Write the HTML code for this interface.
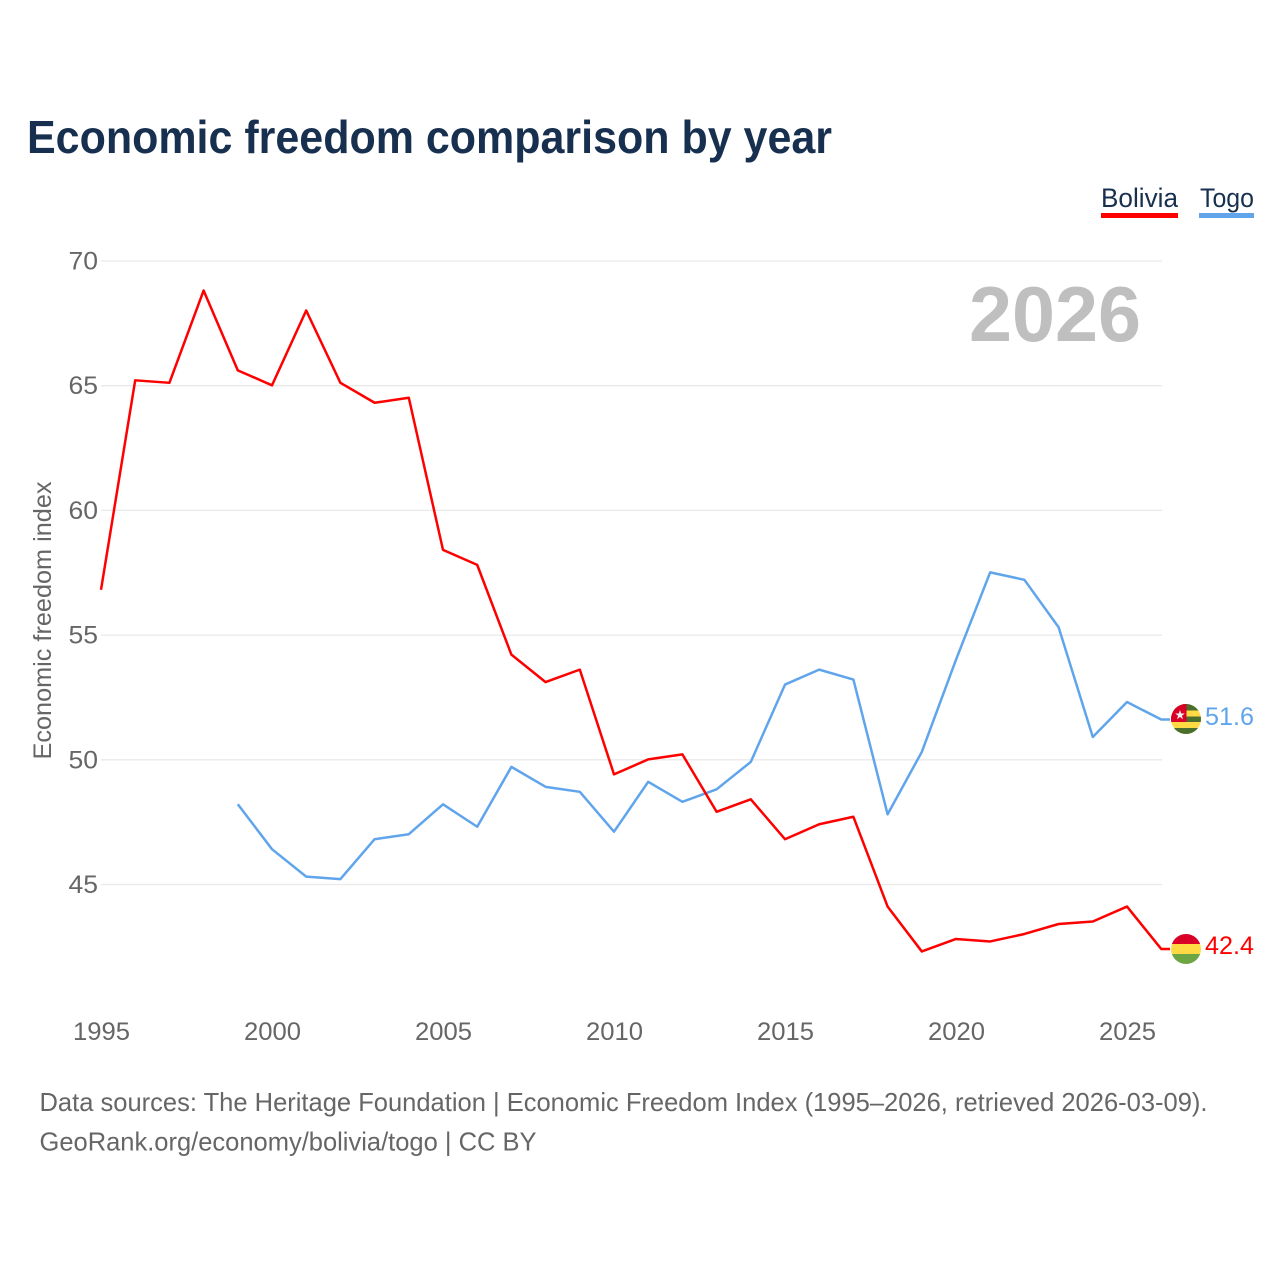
<!DOCTYPE html>
<html lang="en">
<head>
<meta charset="utf-8">
<title>Economic freedom comparison by year</title>
<style>
html,body{margin:0;padding:0;background:#fff;width:1280px;height:1280px;overflow:hidden}
svg{display:block;font-family:"Liberation Sans",sans-serif}
</style>
</head>
<body>
<svg id="chart" width="1280" height="1280" viewBox="0 0 1280 1280" xmlns="http://www.w3.org/2000/svg">
  <text x="27" y="153" font-size="46" font-weight="700" fill="#18304f" textLength="805" lengthAdjust="spacingAndGlyphs">Economic freedom comparison by year</text>

  <g>
    <text x="1101" y="207" font-size="27" fill="#18304f" textLength="77" lengthAdjust="spacingAndGlyphs">Bolivia</text>
    <rect x="1101" y="213" width="77" height="5" fill="#ff0000"/>
  </g>
  <g>
    <text x="1200" y="207" font-size="27" fill="#18304f" textLength="54" lengthAdjust="spacingAndGlyphs">Togo</text>
    <rect x="1199" y="213" width="55" height="5" fill="#60a5ec"/>
  </g>

  <g id="grid"></g>
  <g id="yticks"></g>
  <g id="xticks"></g>

  <text transform="translate(51,620.5) rotate(-90)" text-anchor="middle" font-size="25" fill="#666666" textLength="278" lengthAdjust="spacingAndGlyphs">Economic freedom index</text>

  <text x="1141" y="341" text-anchor="end" font-size="78" font-weight="700" fill="#bfbfbf" textLength="172" lengthAdjust="spacingAndGlyphs">2026</text>

  <path id="line-togo" fill="none" stroke="#60a5ec" stroke-width="2.5" stroke-linejoin="round"/>
  <path id="line-bolivia" fill="none" stroke="#ff0000" stroke-width="2.5" stroke-linejoin="round"/>

  <g id="flag-togo">
    <clipPath id="clip-togo"><circle cx="1186" cy="719" r="15"/></clipPath>
    <g clip-path="url(#clip-togo)">
      <rect x="1171" y="704" width="30" height="30" fill="#ffda44"/>
      <rect x="1171" y="704" width="30" height="6.5" fill="#496e2d"/>
      <rect x="1171" y="716.5" width="30" height="5.5" fill="#496e2d"/>
      <rect x="1171" y="728" width="30" height="6" fill="#496e2d"/>
      <rect x="1171" y="704" width="15.5" height="18" fill="#d80027"/>
      <polygon points="1180,710 1181.2,713.5 1184.8,713.5 1181.9,715.7 1183,719.2 1180,717 1177,719.2 1178.1,715.7 1175.2,713.5 1178.8,713.5" fill="#f0f0f0"/>
    </g>
  </g>
  <g id="flag-bolivia">
    <clipPath id="clip-bolivia"><circle cx="1186" cy="949" r="15"/></clipPath>
    <g clip-path="url(#clip-bolivia)">
      <rect x="1171" y="934" width="30" height="10" fill="#d80027"/>
      <rect x="1171" y="944" width="30" height="10" fill="#ffda44"/>
      <rect x="1171" y="954" width="30" height="10" fill="#6da544"/>
    </g>
  </g>

  <text id="value-togo" x="1254" y="725" text-anchor="end" font-size="25" fill="#60a5ec" textLength="49" lengthAdjust="spacingAndGlyphs"></text>
  <text id="value-bolivia" x="1254" y="954" text-anchor="end" font-size="25" fill="#ff0000" textLength="49" lengthAdjust="spacingAndGlyphs"></text>

  <text x="39.5" y="1111" font-size="26" fill="#666666" textLength="1168" lengthAdjust="spacingAndGlyphs">Data sources: The Heritage Foundation | Economic Freedom Index (1995–2026, retrieved 2026-03-09).</text>
  <text x="39.5" y="1150.5" font-size="26" fill="#666666" textLength="497" lengthAdjust="spacingAndGlyphs">GeoRank.org/economy/bolivia/togo | CC BY</text>
</svg>
<script>
const years = [1995,1996,1997,1998,1999,2000,2001,2002,2003,2004,2005,2006,2007,2008,2009,2010,2011,2012,2013,2014,2015,2016,2017,2018,2019,2020,2021,2022,2023,2024,2025,2026];
const boliviaValues = [56.8,65.2,65.1,68.8,65.6,65.0,68.0,65.1,64.3,64.5,58.4,57.8,54.2,53.1,53.6,49.4,50.0,50.2,47.9,48.4,46.8,47.4,47.7,44.1,42.3,42.8,42.7,43.0,43.4,43.5,44.1,42.4];
const togoValues = [null,null,null,null,48.2,46.4,45.3,45.2,46.8,47.0,48.2,47.3,49.7,48.9,48.7,47.1,49.1,48.3,48.8,49.9,53.0,53.6,53.2,47.8,50.3,54.0,57.5,57.2,55.3,50.9,52.3,51.6];
const yTickLabels = [45,50,55,60,65,70];
const xTickLabels = [1995,2000,2005,2010,2015,2020,2025];

const NS = 'http://www.w3.org/2000/svg';
const xScale = function (year) { return 101 + (year - 1995) * (1161.2 - 101) / 31; };
const yScale = function (value) { return 261 + (70 - value) * (884.5 - 261) / 25; };

const grid = document.getElementById('grid');
const yticks = document.getElementById('yticks');
const xticks = document.getElementById('xticks');

yTickLabels.forEach(function (tick) {
  const gridLine = document.createElementNS(NS, 'line');
  
  
  gridLine.setAttribute('x1', 101);
  gridLine.setAttribute('x2', 1162);
  gridLine.setAttribute('y1', yScale(tick));
  gridLine.setAttribute('y2', yScale(tick));
  gridLine.setAttribute('stroke', '#e9e9e9');
  gridLine.setAttribute('stroke-width', '1.3');
  grid.appendChild(gridLine);

  const label = document.createElementNS(NS, 'text');
  
  
  label.setAttribute('x', 98);
  label.setAttribute('y', yScale(tick) + 8.5);
  label.setAttribute('text-anchor', 'end');
  label.setAttribute('font-size', '25');
  label.setAttribute('fill', '#666666');
  label.setAttribute('textLength', '29.5');
  label.setAttribute('lengthAdjust', 'spacingAndGlyphs');
  label.textContent = tick;
  yticks.appendChild(label);
});

xTickLabels.forEach(function (tick) {
  const label = document.createElementNS(NS, 'text');
  
  
  label.setAttribute('x', xScale(tick) + 0.5);
  label.setAttribute('y', 1040);
  label.setAttribute('text-anchor', 'middle');
  label.setAttribute('font-size', '25');
  label.setAttribute('fill', '#666666');
  label.setAttribute('textLength', '57');
  label.setAttribute('lengthAdjust', 'spacingAndGlyphs');
  label.textContent = tick;
  xticks.appendChild(label);
});

const lineY = function (value) { return yScale(value) - 0.4; };

const linePath = function (values) {
  let d = '';
  let lastY = 0;
  values.forEach(function (value, i) {
    if (value === null) { return; }
    lastY = lineY(value);
    d += (d === '' ? 'M' : 'L') + xScale(years[i]).toFixed(2) + ' ' + lastY.toFixed(2);
  });
  return d + 'L1170 ' + lastY.toFixed(2);
};

document.getElementById('line-bolivia').setAttribute('d', linePath(boliviaValues));
document.getElementById('line-togo').setAttribute('d', linePath(togoValues));
document.getElementById('value-bolivia').textContent = boliviaValues[boliviaValues.length - 1].toFixed(1);
document.getElementById('value-togo').textContent = togoValues[togoValues.length - 1].toFixed(1);
</script>
</body>
</html>
